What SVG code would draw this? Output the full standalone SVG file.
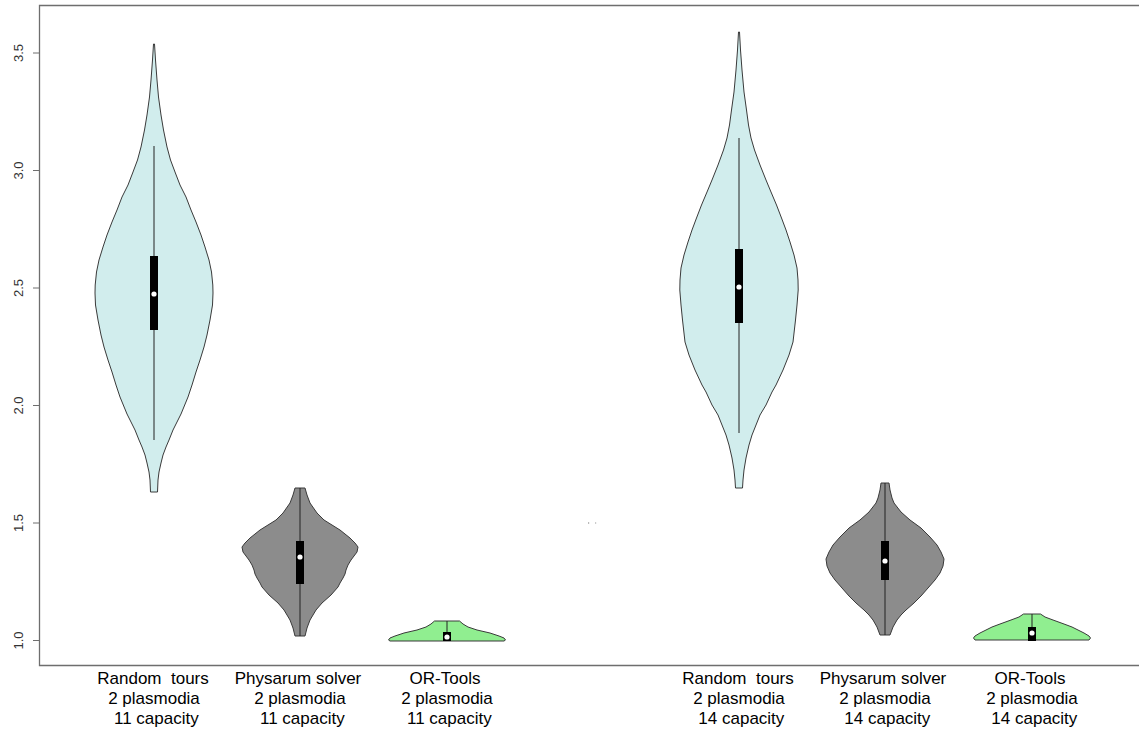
<svg xmlns="http://www.w3.org/2000/svg" width="1139" height="731" viewBox="0 0 1139 731">
<style>
.frame{fill:none;stroke:#6e6e6e;stroke-width:1.3}
.tick{stroke:#6e6e6e;stroke-width:1}
.ylab{font-family:"Liberation Sans",Arial,sans-serif;font-size:13px;fill:#333;text-anchor:middle}
.xlab{font-family:"Liberation Sans",Arial,sans-serif;font-size:17px;fill:#000;text-anchor:middle}
.v{stroke:#3a3a3a;stroke-width:1;stroke-linejoin:round}
.cyan{fill:#d1eded}
.gray{fill:#8c8c8c}
.green{fill:#90ee90}
.wh{stroke:#222;stroke-width:1}
.box{fill:#000}
.med{fill:#fff}
</style>
<rect width="1139" height="731" fill="#fff"/>
<g id="axes">
<path class="frame" d="M1139,5.5 H39.5 V665.5 H1139"/>
<g class="tick">
<line x1="33" y1="53" x2="39.5" y2="53"/>
<line x1="33" y1="170.5" x2="39.5" y2="170.5"/>
<line x1="33" y1="288" x2="39.5" y2="288"/>
<line x1="33" y1="405.5" x2="39.5" y2="405.5"/>
<line x1="33" y1="523" x2="39.5" y2="523"/>
<line x1="33" y1="640.5" x2="39.5" y2="640.5"/>
</g>
<text class="ylab" transform="translate(23,53) rotate(-90)">3.5</text>
<text class="ylab" transform="translate(23,170.5) rotate(-90)">3.0</text>
<text class="ylab" transform="translate(23,288) rotate(-90)">2.5</text>
<text class="ylab" transform="translate(23,405.5) rotate(-90)">2.0</text>
<text class="ylab" transform="translate(23,523) rotate(-90)">1.5</text>
<text class="ylab" transform="translate(23,640.5) rotate(-90)">1.0</text>
<rect x="588" y="522.5" width="1.2" height="1" fill="#777"/>
<rect x="595" y="522.5" width="1.2" height="1" fill="#999"/>
</g>
<g id="violin1" transform="translate(154,0)">
<path class="v cyan" d="M-0.5,44 L0.5,44 L1.5,60 L3,80 L4.5,97 L7,115 L9.5,130 L13,147 L16.5,160 L21,172 L26,185 L32,197 L37,210 L42,222 L47,235 L51,247 L55,260 L57.5,272 L58.8,285 L59,293 L58.5,305 L56,320 L53,335 L50,347 L46,360 L42,372 L38,385 L34,397 L27,414 L19,430 L15,440 L12,447 L9,455 L7,463 L5,472 L4,480 L3.5,492 L-3.5,492 L-4,480 L-5,472 L-7,463 L-9,455 L-12,447 L-15,440 L-19,430 L-27,414 L-34,397 L-38,385 L-42,372 L-46,360 L-50,347 L-53,335 L-56,320 L-58.5,305 L-59,293 L-58.8,285 L-57.5,272 L-55,260 L-51,247 L-47,235 L-42,222 L-37,210 L-32,197 L-26,185 L-21,172 L-16.5,160 L-13,147 L-9.5,130 L-7,115 L-4.5,97 L-3,80 L-1.5,60 Z"/>
<line class="wh" x1="0" y1="146" x2="0" y2="440"/>
<rect class="box" x="-4" y="256" width="8" height="74"/>
<circle class="med" cx="0" cy="294" r="2.6"/>
</g>
<g id="violin2" transform="translate(300,0)">
<path class="v gray" d="M-5,488 L5,488 L7,495 L10,503 L17,513 L24,520 L40,530 L50,538 L55,543 L58,547 L57,552 L54,556 L51,560 L48,565 L46,570 L45,574 L43,578 L40,583 L38,587 L31,595 L22,603 L16,610 L10,620 L7,628 L5,636 L-5,636 L-7,628 L-10,620 L-16,610 L-22,603 L-31,595 L-38,587 L-40,583 L-43,578 L-45,574 L-46,570 L-48,565 L-51,560 L-54,556 L-57,552 L-58,547 L-55,543 L-50,538 L-40,530 L-24,520 L-17,513 L-10,503 L-7,495 Z"/>
<line class="wh" x1="0" y1="488" x2="0" y2="636"/>
<rect class="box" x="-4" y="541" width="8" height="43"/>
<circle class="med" cx="0" cy="557" r="2.6"/>
</g>
<g id="violin3" transform="translate(447,0)">
<path class="v green" d="M-12.5,621 L12.5,621 L16,624 L21,627 L30,630 L43,633 L52,636 L57,638 L58.5,640 L57,641 L-57,641 L-58.5,640 L-57,638 L-52,636 L-43,633 L-30,630 L-21,627 L-16,624 Z"/>
<line class="wh" x1="0" y1="621" x2="0" y2="632"/>
<rect class="box" x="-4" y="632" width="8" height="9"/>
<circle class="med" cx="0" cy="637" r="2.6"/>
</g>
<g id="violin4" transform="translate(739,0)">
<path class="v cyan" d="M-0.5,32 L0.5,32 L1.5,50 L3,70 L5,92 L7.5,110 L9.5,125 L12,138 L15.5,150 L21,165 L27,180 L32,192 L37.5,205 L42.5,218 L47,230 L51,242 L55,255 L58,268 L59,280 L59.2,290 L58,305 L56.5,320 L54,342 L50,355 L44,370 L37,385 L33,392 L27,405 L21,415 L17,425 L13,435 L10,445 L7,458 L5,470 L4,480 L3.5,488 L-3.5,488 L-4,480 L-5,470 L-7,458 L-10,445 L-13,435 L-17,425 L-21,415 L-27,405 L-33,392 L-37,385 L-44,370 L-50,355 L-54,342 L-56.5,320 L-58,305 L-59.2,290 L-59,280 L-58,268 L-55,255 L-51,242 L-47,230 L-42.5,218 L-37.5,205 L-32,192 L-27,180 L-21,165 L-15.5,150 L-12,138 L-9.5,125 L-7.5,110 L-5,92 L-3,70 L-1.5,50 Z"/>
<line class="wh" x1="0" y1="138" x2="0" y2="433"/>
<rect class="box" x="-4" y="249" width="8" height="74"/>
<circle class="med" cx="0" cy="287" r="2.6"/>
</g>
<g id="violin5" transform="translate(885,0)">
<path class="v gray" d="M-4,483 L4,483 L5,490 L7,498 L9,503 L16,512 L25,520 L36,528 L45,537 L52,545 L56,552 L59,559 L58,566 L55,573 L50,580 L43,588 L36,596 L29,603 L21,610 L16,615 L12,620 L8,627 L5,635 L-5,635 L-8,627 L-12,620 L-16,615 L-21,610 L-29,603 L-36,596 L-43,588 L-50,580 L-55,573 L-58,566 L-59,559 L-56,552 L-52,545 L-45,537 L-36,528 L-25,520 L-16,512 L-9,503 L-7,498 L-5,490 Z"/>
<line class="wh" x1="0" y1="483" x2="0" y2="635"/>
<rect class="box" x="-4" y="541" width="8" height="39"/>
<circle class="med" cx="0" cy="561" r="2.6"/>
</g>
<g id="violin6" transform="translate(1032,0)">
<path class="v green" d="M-8.5,614 L8.5,614 L13,617 L21,620 L32,624 L40,627 L46,630 L52,633 L57,636 L58.5,638 L57,640 L-57,640 L-58.5,638 L-57,636 L-52,633 L-46,630 L-40,627 L-32,624 L-21,620 L-13,617 Z"/>
<line class="wh" x1="0" y1="614" x2="0" y2="627"/>
<rect class="box" x="-4" y="627" width="8" height="14"/>
<circle class="med" cx="0" cy="633" r="2.6"/>
</g>
<g id="labels" class="xlab">
<text x="153" y="684">Random&#160; tours</text>
<text x="154" y="704">2 plasmodia</text>
<text x="154" y="724">&#160;11 capacity</text>
<text x="298" y="684">Physarum solver</text>
<text x="300" y="704">2 plasmodia</text>
<text x="300" y="724">&#160;11 capacity</text>
<text x="445" y="684">OR-Tools</text>
<text x="447" y="704">2 plasmodia</text>
<text x="447" y="724">&#160;11 capacity</text>
<text x="738" y="684">Random&#160; tours</text>
<text x="739" y="704">2 plasmodia</text>
<text x="739" y="724">&#160;14 capacity</text>
<text x="883" y="684">Physarum solver</text>
<text x="885" y="704">2 plasmodia</text>
<text x="885" y="724">&#160;14 capacity</text>
<text x="1030" y="684">OR-Tools</text>
<text x="1032" y="704">2 plasmodia</text>
<text x="1032" y="724">&#160;14 capacity</text>
</g>
</svg>
